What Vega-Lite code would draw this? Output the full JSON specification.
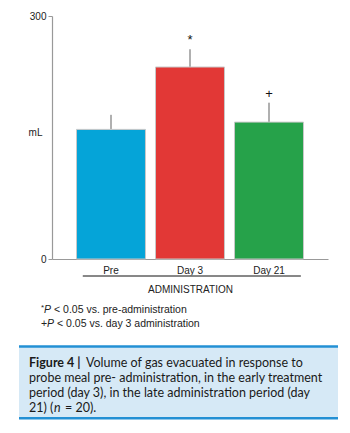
{
  "$schema": "https://vega.github.io/schema/vega-lite/v6.json",
  "padding": {"left": 17, "top": 11, "right": 5, "bottom": 5},
  "background": "white",
  "spacing": 4,
  "config": {
    "view": {"stroke": null},
    "font": "Liberation Sans",
    "axis": {"domainColor": "#999", "domainWidth": 1.2, "tickColor": "#999", "labelColor": "#222", "titleColor": "#222", "labelFontSize": 10, "titleFontSize": 10, "titleFontWeight": "normal", "grid": false},
    "axisX": {"labelAngle": 0, "labelAlign": "center", "labelBaseline": "top", "ticks": false, "labelPadding": 6, "titlePadding": 9}
  },
  "vconcat": [
    {
      "width": 276,
      "height": 243,
      "data": {"values": [
        {"period": "Pre", "value": 160, "upper": 178, "sig": ""},
        {"period": "Day 3", "value": 237, "upper": 259, "sig": "*"},
        {"period": "Day 21", "value": 169, "upper": 193, "sig": "+"}
      ]},
      "encoding": {
        "x": {"field": "period", "type": "nominal", "sort": ["Pre", "Day 3", "Day 21"],
              "scale": {"paddingInner": 0.127, "paddingOuter": 0.31},
              "axis": {"title": "ADMINISTRATION"}}
      },
      "layer": [
        {
          "mark": {"type": "rule", "color": "#b0b0b0", "strokeWidth": 2},
          "encoding": {
            "y": {"field": "value", "type": "quantitative", "scale": {"domain": [0, 300]},
                  "axis": {"values": [0, 300], "tickSize": 4, "labelPadding": 2, "title": "mL", "titleAngle": 0, "titleAlign": "right", "titleBaseline": "middle", "titleX": -10, "titleY": 116}},
            "y2": {"field": "upper"}
          }
        },
        {
          "mark": {"type": "bar", "stroke": "#c8c8c8", "strokeWidth": 1},
          "encoding": {
            "y": {"field": "value", "type": "quantitative"},
            "color": {"field": "period", "type": "nominal", "legend": null,
                      "scale": {"domain": ["Pre", "Day 3", "Day 21"], "range": ["#05a4d8", "#e23836", "#26a24a"]}}
          }
        },
        {
          "mark": {"type": "text", "baseline": "bottom", "dy": -2, "fontSize": 13, "color": "#111"},
          "encoding": {
            "y": {"field": "upper", "type": "quantitative"},
            "text": {"field": "sig"}
          }
        },
        {
          "mark": {"type": "rule", "color": "#777", "strokeWidth": 1, "xOffset": 5},
          "encoding": {
            "x": {"datum": "Pre", "bandPosition": 0.02},
            "x2": {"datum": "Day 21", "bandPosition": 0.96},
            "y": {"datum": -21}
          }
        }
      ]
    },
    {
      "width": 286,
      "height": 126,
      "layer": [
        {
          "data": {"values": [{"box": "caption"}]},
          "mark": {"type": "rect", "color": "#d6e9f6"},
          "encoding": {
            "x": {"datum": 0, "type": "quantitative", "scale": {"domain": [0, 1], "range": [-33, 286]}, "axis": null},
            "x2": {"datum": 1},
            "y": {"datum": 50, "type": "quantitative", "scale": {"domain": [0, 126], "range": [0, 126]}, "axis": null},
            "y2": {"datum": 124}
          }
        },
        {
          "data": {"values": [{"edge": 50}, {"edge": 124}]},
          "mark": {"type": "rule", "color": "#2390d4", "strokeWidth": 2.5},
          "encoding": {
            "x": {"datum": 0, "type": "quantitative"},
            "x2": {"datum": 1},
            "y": {"field": "edge", "type": "quantitative"}
          }
        },
        {
          "data": {"values": [{"t": "*"}]},
          "mark": {"type": "text", "align": "left", "baseline": "middle", "fontSize": 8, "dx": 22, "dy": -2, "color": "#222"},
          "encoding": {"x": {"datum": 0, "type": "quantitative"}, "y": {"datum": 12, "type": "quantitative"}, "text": {"field": "t"}}
        },
        {
          "data": {"values": [{"t": "+"}]},
          "mark": {"type": "text", "align": "left", "baseline": "middle", "fontSize": 10.5, "dx": 22, "color": "#222"},
          "encoding": {"x": {"datum": 0, "type": "quantitative"}, "y": {"datum": 27, "type": "quantitative"}, "text": {"field": "t"}}
        },
        {
          "data": {"values": [{"t": "P"}]},
          "mark": {"type": "text", "align": "left", "baseline": "middle", "fontSize": 10.5, "fontStyle": "italic", "dx": 25, "color": "#222"},
          "encoding": {"x": {"datum": 0, "type": "quantitative"}, "y": {"datum": 12, "type": "quantitative"}, "text": {"field": "t"}}
        },
        {
          "data": {"values": [{"t": "P"}]},
          "mark": {"type": "text", "align": "left", "baseline": "middle", "fontSize": 10.5, "fontStyle": "italic", "dx": 28, "color": "#222"},
          "encoding": {"x": {"datum": 0, "type": "quantitative"}, "y": {"datum": 27, "type": "quantitative"}, "text": {"field": "t"}}
        },
        {
          "data": {"values": [{"t": "< 0.05 vs. pre-administration"}]},
          "mark": {"type": "text", "align": "left", "baseline": "middle", "fontSize": 10.5, "dx": 35, "color": "#222"},
          "encoding": {"x": {"datum": 0, "type": "quantitative"}, "y": {"datum": 12, "type": "quantitative"}, "text": {"field": "t"}}
        },
        {
          "data": {"values": [{"t": "< 0.05 vs. day 3 administration"}]},
          "mark": {"type": "text", "align": "left", "baseline": "middle", "fontSize": 10.5, "dx": 38, "color": "#222"},
          "encoding": {"x": {"datum": 0, "type": "quantitative"}, "y": {"datum": 27, "type": "quantitative"}, "text": {"field": "t"}}
        },
        {
          "data": {"values": [{"t": "Figure 4 |"}]},
          "mark": {"type": "text", "align": "left", "baseline": "middle", "font": "Lato", "fontSize": 12.5, "fontWeight": "bold", "dx": 10, "color": "#1a1a1a"},
          "encoding": {"x": {"datum": 0, "type": "quantitative"}, "y": {"datum": 67, "type": "quantitative"}, "text": {"field": "t"}}
        },
        {
          "data": {"values": [{"t": "Volume of gas evacuated in response to"}]},
          "mark": {"type": "text", "align": "left", "baseline": "middle", "font": "Lato", "fontSize": 12.5, "dx": 67, "color": "#1a1a1a"},
          "encoding": {"x": {"datum": 0, "type": "quantitative"}, "y": {"datum": 67, "type": "quantitative"}, "text": {"field": "t"}}
        },
        {
          "data": {"values": [{"t": "probe meal pre- administration, in the early treatment"}]},
          "mark": {"type": "text", "align": "left", "baseline": "middle", "font": "Lato", "fontSize": 12.5, "dx": 10, "color": "#1a1a1a"},
          "encoding": {"x": {"datum": 0, "type": "quantitative"}, "y": {"datum": 82.5, "type": "quantitative"}, "text": {"field": "t"}}
        },
        {
          "data": {"values": [{"t": "period (day 3), in the late administration period (day"}]},
          "mark": {"type": "text", "align": "left", "baseline": "middle", "font": "Lato", "fontSize": 12.5, "dx": 10, "color": "#1a1a1a"},
          "encoding": {"x": {"datum": 0, "type": "quantitative"}, "y": {"datum": 98, "type": "quantitative"}, "text": {"field": "t"}}
        },
        {
          "data": {"values": [{"t": "21) ("}]},
          "mark": {"type": "text", "align": "left", "baseline": "middle", "font": "Lato", "fontSize": 12.5, "dx": 10, "color": "#1a1a1a"},
          "encoding": {"x": {"datum": 0, "type": "quantitative"}, "y": {"datum": 113.5, "type": "quantitative"}, "text": {"field": "t"}}
        },
        {
          "data": {"values": [{"t": "n"}]},
          "mark": {"type": "text", "align": "left", "baseline": "middle", "font": "Lato", "fontSize": 12.5, "fontStyle": "italic", "dx": 35, "color": "#1a1a1a"},
          "encoding": {"x": {"datum": 0, "type": "quantitative"}, "y": {"datum": 113.5, "type": "quantitative"}, "text": {"field": "t"}}
        },
        {
          "data": {"values": [{"t": "= 20)."}]},
          "mark": {"type": "text", "align": "left", "baseline": "middle", "font": "Lato", "fontSize": 12.5, "dx": 46, "color": "#1a1a1a"},
          "encoding": {"x": {"datum": 0, "type": "quantitative"}, "y": {"datum": 113.5, "type": "quantitative"}, "text": {"field": "t"}}
        }
      ]
    }
  ]
}
